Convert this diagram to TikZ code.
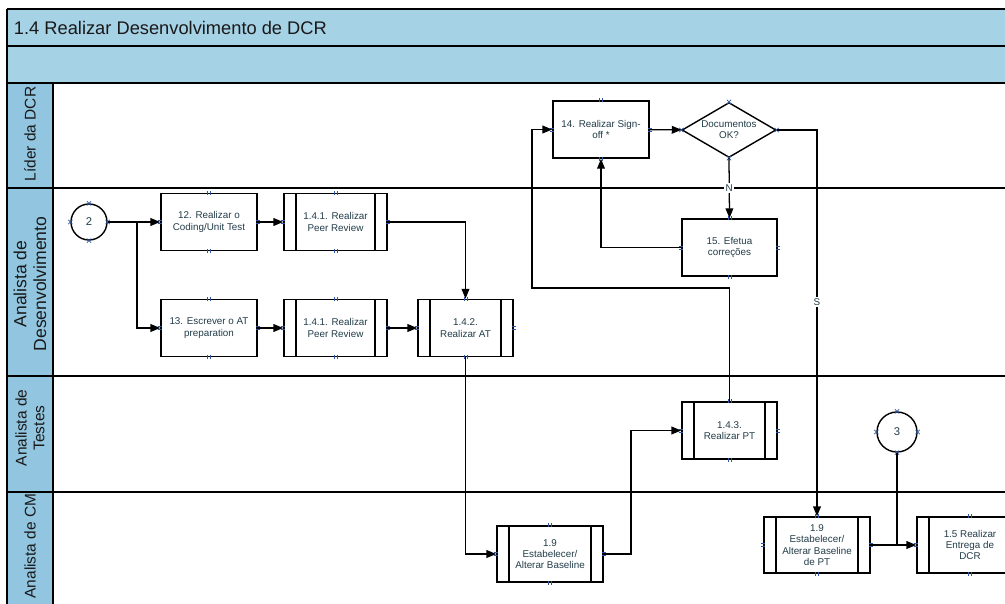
\documentclass[tikz,border=0pt]{standalone}
\usepackage{fontspec}
\setmainfont{Liberation Sans}
\usetikzlibrary{arrows.meta,shapes.geometric,calc}

\definecolor{band}{RGB}{166,210,230}
\definecolor{laneh}{RGB}{146,198,224}
\definecolor{ink}{RGB}{34,60,72}
\definecolor{pinc}{RGB}{45,85,165}

\tikzset{
  base/.style={draw=black, line width=1pt, fill=white, text=ink,
    font=\fontsize{7}{8}\selectfont, align=center, inner sep=1pt},
  task/.style={base, rectangle, minimum width=2.4cm, minimum height=1.43cm},
  subproc/.style={base, rectangle, minimum height=1.43cm,
    path picture={
      \draw[line width=1pt]
        ([xshift=0.3cm]path picture bounding box.north west) --
        ([xshift=0.3cm]path picture bounding box.south west)
        ([xshift=-0.3cm]path picture bounding box.north east) --
        ([xshift=-0.3cm]path picture bounding box.south east);}},
  decision/.style={base, diamond, aspect=1.7, inner sep=0pt,
    minimum width=2.35cm, minimum height=1.375cm},
  conn/.style={base, circle, font=\fontsize{8}{9}\selectfont},
  flow/.style={draw=black, line width=0.9pt},
  arr/.style={flow, -{Triangle[length=7pt,width=5.5pt]}},
  laneline/.style={draw=black, line width=2pt},
  lanelabel/.style={rotate=90, align=center, text=black!90,
    font=\fontsize{11}{12.5}\selectfont},
  pin/.style={draw=pinc, line width=0.5pt},
  flag/.style={fill=white, text=ink, inner sep=1pt, font=\fontsize{7}{8}\selectfont},
}

\begin{document}
\begin{tikzpicture}[x=0.025cm, y=-0.025cm]
\useasboundingbox (0,0) rectangle (1005,604);
\begin{scope}
\clip (0,0) rectangle (1005,604);

% title bands and lane header column
\fill[band] (7,9) rectangle (1010,83);
\fill[laneh] (7,83) rectangle (53,604);
\draw[line width=1.2pt] (7,9) -- (1010,9);
\draw[line width=1.5pt] (7,46) -- (1010,46);
\node[anchor=west, font=\fontsize{13}{15}\selectfont, text=black!90] (title) at (9,28)
  {1.4 Realizar Desenvolvimento de DCR};

% swimlane borders
\draw[laneline] (7,83) -- (1010,83);
\draw[laneline] (7,188) -- (1010,188);
\draw[laneline] (7,376) -- (1010,376);
\draw[laneline] (7,492) -- (1010,492);
\draw[laneline] (7,9) -- (7,610);
\draw[laneline] (53,83) -- (53,610);

% lane names
\node[lanelabel] (l1) at (30,134) {Líder da DCR};
\node[lanelabel, font=\fontsize{12.5}{14}\selectfont] (l2) at (30,284) {Analista de\\Desenvolvimento};
\node[lanelabel] (l3) at (30,428) {Analista de\\Testes};
\node[lanelabel] (l4) at (30,546) {Analista de CM};

% activities
\node[conn, minimum size=0.9cm] (c2) at (89,222) {2};
\node[task] (t12) at (209,222) {12. Realizar o\\Coding/Unit Test};
\node[task] (t13) at (209,328) {13. Escrever o AT\\preparation};
\node[subproc, minimum width=2.575cm] (pr1) at (335.5,222) {1.4.1. Realizar\\Peer Review};
\node[subproc, minimum width=2.575cm] (pr2) at (335.5,328) {1.4.1. Realizar\\Peer Review};
\node[subproc, minimum width=2.375cm] (at) at (465.5,328) {1.4.2.\\Realizar AT};
\node[subproc, minimum width=2.65cm, minimum height=1.4cm] (b19) at (550,554) {1.9\\Estabelecer/\\Alterar Baseline};
\node[subproc, minimum width=2.375cm] (pt) at (729.5,430.5) {1.4.3.\\Realizar PT};
\node[task] (t14) at (601,129.5) {14. Realizar Sign-\\off *};
\node[decision] (dec) at (729,130) {Documentos\\OK?};
\node[task, minimum width=2.375cm] (t15) at (729.5,247.5) {15. Efetua\\correções};
\node[subproc, minimum width=2.65cm, minimum height=1.4cm] (b19pt) at (817,545) {1.9\\Estabelecer/\\Alterar Baseline\\de PT};
\node[subproc, minimum width=2.65cm, minimum height=1.4cm] (t15e) at (970,545) {1.5 Realizar\\Entrega de\\DCR};
\node[conn, minimum size=1cm] (c3) at (897,432) {3};

% connection points on the shapes
\foreach \n in {t12,t13,pr1,pr2,at,b19,pt,t14,t15,b19pt,t15e} {
  \foreach \a in {north,south} {
    \draw[pin] ([xshift=-1pt,yshift=-1.5pt]\n.\a) -- ++(0,3pt)
               ([xshift=1pt,yshift=-1.5pt]\n.\a) -- ++(0,3pt);}
  \foreach \a in {east,west} {
    \draw[pin] ([xshift=-1.5pt,yshift=-1pt]\n.\a) -- ++(3pt,0)
               ([xshift=-1.5pt,yshift=1pt]\n.\a) -- ++(3pt,0);}
}
\foreach \a in {north,south,east,west} {
  \draw[pin] ([xshift=-1.5pt,yshift=-1.5pt]c3.\a) -- ++(3pt,3pt)
             ([xshift=-1.5pt,yshift=1.5pt]c3.\a) -- ++(3pt,-3pt);
  \draw[pin] ([xshift=-1.5pt,yshift=-1.5pt]c2.\a) -- ++(3pt,3pt)
             ([xshift=-1.5pt,yshift=1.5pt]c2.\a) -- ++(3pt,-3pt);
  \draw[pin] ([xshift=-1.5pt,yshift=-1.5pt]dec.\a) -- ++(3pt,3pt)
             ([xshift=-1.5pt,yshift=1.5pt]dec.\a) -- ++(3pt,-3pt);
}

% flow
\coordinate (split) at (137,222);
\draw[flow] (c2) -- (split);
\draw[arr] (split) -- (t12);
\draw[arr] (split) |- (t13);
\draw[arr] (t12) -- (pr1);
\draw[arr] (t13) -- (pr2);
\draw[arr] (pr1.east) -| (at.north);
\draw[arr] (pr2) -- (at);
\draw[arr] (at.south) |- (b19.west);
\coordinate (up1) at (631,554);
\draw[arr] (b19.east) -- (up1) |- (pt.west);
\coordinate (back1) at (532,288);
\draw[arr] (pt.north) |- (back1) |- (t14.west);
\draw[arr] (t14) -- (dec);
\draw[arr] (dec.south) -- node[flag, pos=0.5] {N} (t15.north);
\draw[arr] (t15.west) -| (t14.south);
\coordinate (yes1) at (817,130);
\draw[arr] (dec.east) -- (yes1) -- node[flag, pos=0.445] {S} (b19pt.north);
\draw[arr] (b19pt) -- (t15e);
\draw[flow] (c3.south) -- (c3.south |- t15e.west);
\end{scope}
\end{tikzpicture}
\end{document}
